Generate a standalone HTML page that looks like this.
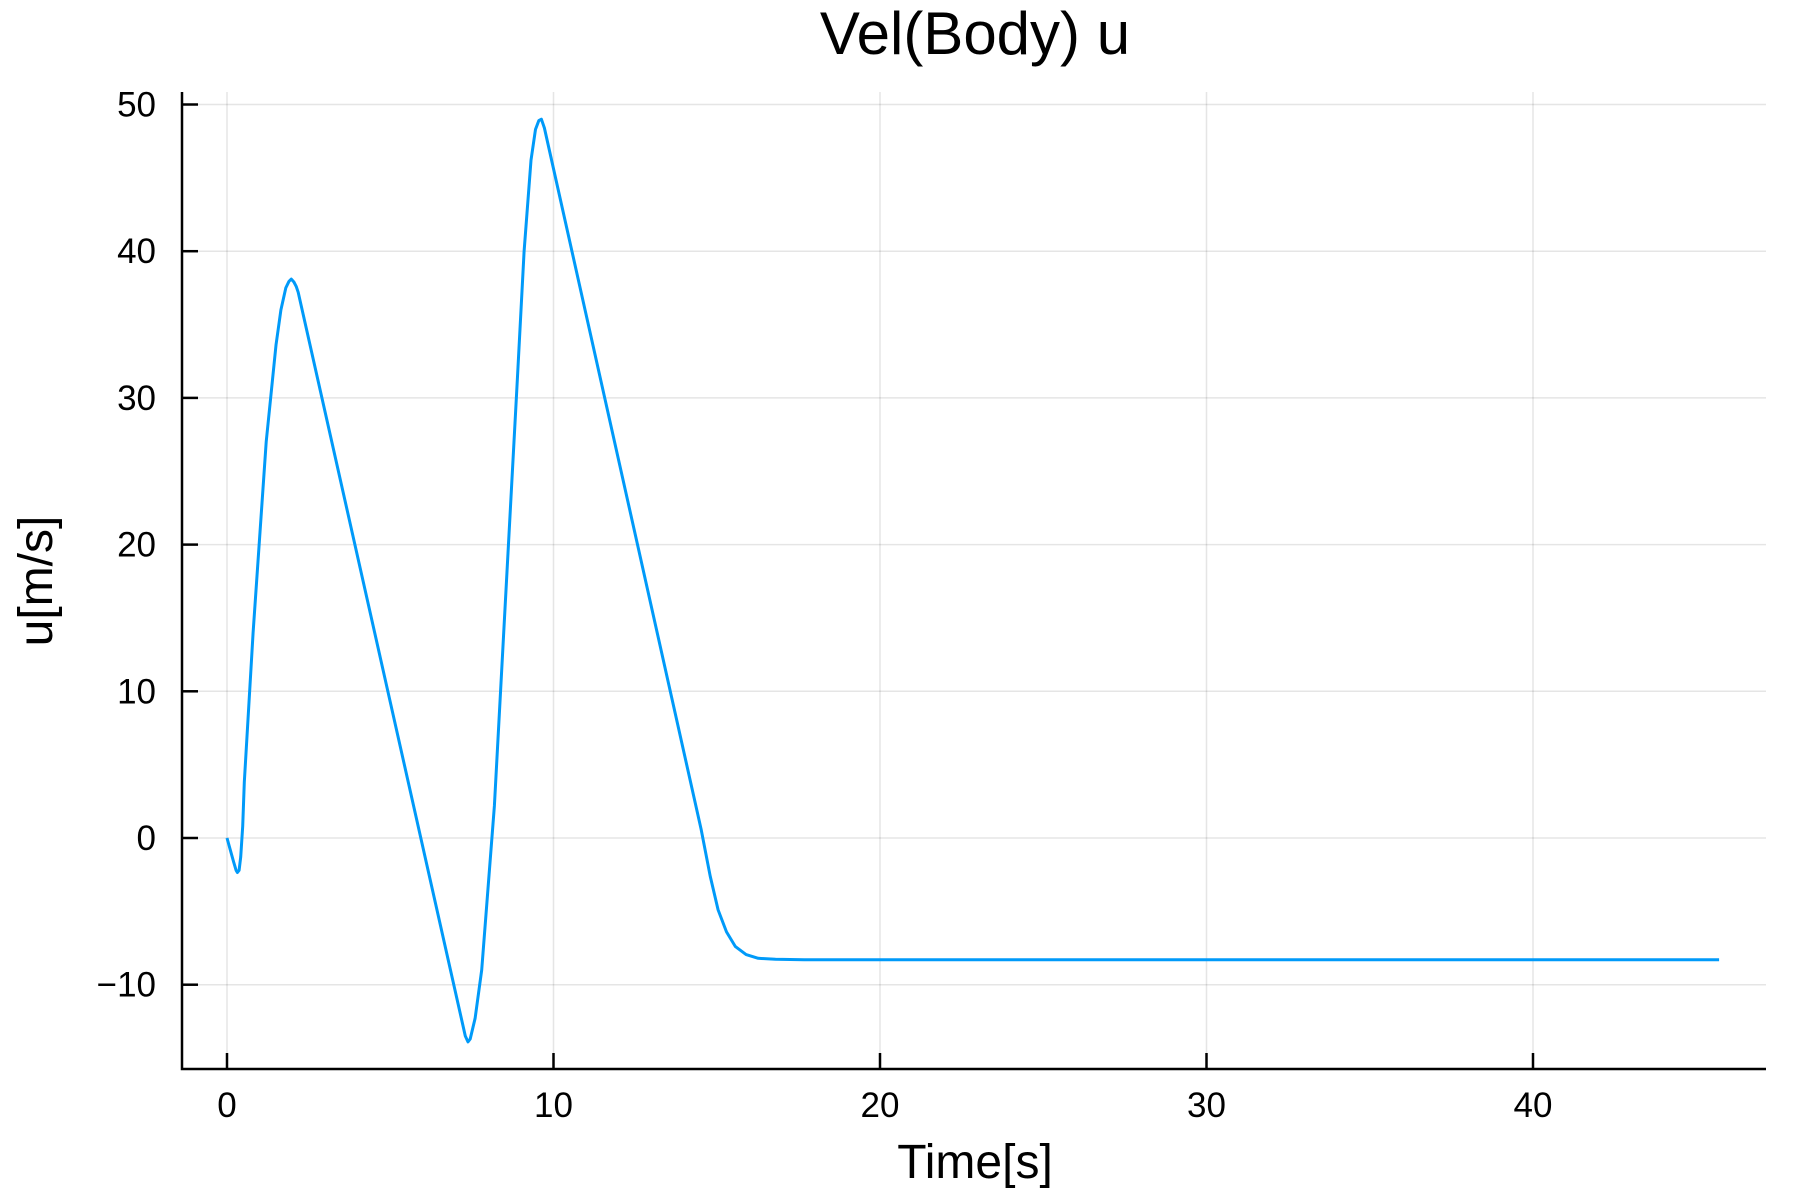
<!DOCTYPE html>
<html><head><meta charset="utf-8"><style>
html,body{margin:0;padding:0;background:#fff}
svg{display:block;font-family:"Liberation Sans","DejaVu Sans",sans-serif}
</style></head><body>
<svg id="chart" width="1800" height="1200" viewBox="0 0 1800 1200">
<text x="975" y="54" font-size="60" text-anchor="middle">Vel(Body) u</text>
<g id="grid"></g>
<g id="axes"></g>
<g id="series"></g>
<text x="975" y="1178" font-size="48" text-anchor="middle">Time[s]</text>
<text transform="translate(52,581) rotate(-90)" font-size="48" text-anchor="middle">u[m/s]</text>
</svg>
<script>
const xTicks=[0,10,20,30,40];
const yTicks=[-10,0,10,20,30,40,50];
const yTickLabels=["\u221210","0","10","20","30","40","50"];
const times=[0,0.2,0.28,0.32,0.37,0.42,0.48,0.53,0.8,1.2,1.5,1.65,1.8,1.9,1.97,2.05,2.12,2.18,7.3,7.38,7.45,7.6,7.8,8.19,8.5,8.89,9.1,9.31,9.45,9.55,9.63,9.72,14.52,14.8,15.04,15.3,15.57,15.9,16.27,16.8,17.68,30,45.7];
const uVals=[0,-1.6,-2.2,-2.35,-2.2,-1.3,0.8,3.8,14,27,33.6,36,37.5,37.95,38.1,37.9,37.6,37.2,-13.5,-13.9,-13.7,-12.3,-9,2.2,15,31.2,40,46.2,48.3,48.9,49.0,48.4,0.6,-2.6,-4.9,-6.4,-7.4,-7.95,-8.2,-8.27,-8.3,-8.3,-8.3];
const L=182,R=1766,T=92,B=1069;
const xs=t=>227+t*32.65;
const ys=u=>838-u*14.67;
const NS="http://www.w3.org/2000/svg";
const g=document.getElementById('grid'),a=document.getElementById('axes'),s=document.getElementById('series');
function el(tag,attrs,parent){const e=document.createElementNS(NS,tag);for(const k in attrs)e.setAttribute(k,attrs[k]);parent.appendChild(e);return e;}
xTicks.forEach(t=>{
 const l=el('line',{x1:xs(t),x2:xs(t),y1:T,y2:B,stroke:'#000','stroke-opacity':0.1,'stroke-width':1.5},g);
 
 
 const tk=el('line',{x1:xs(t),x2:xs(t),y1:B,y2:B-16,stroke:'#000','stroke-width':2.5},a);
 
 
 const tx=el('text',{x:xs(t),y:1117,'font-size':35,'text-anchor':'middle'},a);
 tx.textContent=String(t);
 
 
});
yTicks.forEach((v,i)=>{
 const l=el('line',{x1:L,x2:R,y1:ys(v),y2:ys(v),stroke:'#000','stroke-opacity':0.1,'stroke-width':1.5},g);
 
 
 const tk=el('line',{x1:L,x2:L+16,y1:ys(v),y2:ys(v),stroke:'#000','stroke-width':2.5},a);
 
 
 const tx=el('text',{x:156,y:ys(v)+12,'font-size':35,'text-anchor':'end'},a);
 tx.textContent=yTickLabels[i];
 
 
});
const ax=el('path',{d:`M${L},${T} L${L},${B} L${R},${B}`,fill:'none',stroke:'#000','stroke-width':2.5},a);


const pts=times.map((t,i)=>xs(t).toFixed(1)+','+ys(uVals[i]).toFixed(1)).join(' ');
const pl=el('polyline',{points:pts,fill:'none',stroke:'#009af9','stroke-width':3,'stroke-linejoin':'round'},s);


</script>
</body></html>
